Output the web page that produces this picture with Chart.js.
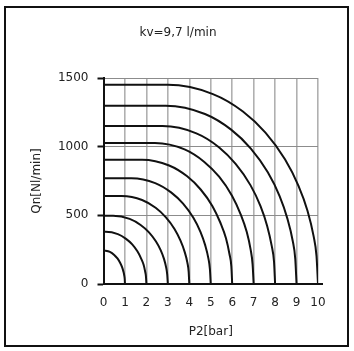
<!DOCTYPE html>
<html><head><meta charset="utf-8">
<script src="https://cdn.jsdelivr.net/npm/chart.js@4"></script>
<style>html,body{margin:0;padding:0;background:#fff}canvas{display:block}</style>
</head><body>
<canvas id="c" width="354" height="351"></canvas>
<script>
const titleText = 'kv=9,7 l/min';
const xAxisTitle = 'P2[bar]';
const yAxisTitle = 'Qn[Nl/min]';
const xTicks = [0, 1, 2, 3, 4, 5, 6, 7, 8, 9, 10];
const yTicks = [0, 500, 1000, 1500];

// one curve per inlet pressure P1 = 1 ... 10 bar (P2 in bar, Qn in Nl/min)
const p2_c1  = [0, 0.3, 0.5, 0.65, 0.78, 0.87, 0.93, 0.97, 0.99, 1];
const qn_c1  = [245, 234, 212, 186, 153, 121, 90, 60, 35, 0];
const p2_c2  = [0, 0.1, 0.67, 1.05, 1.34, 1.58, 1.75, 1.87, 1.94, 1.98, 2];
const qn_c2  = [380, 380, 363, 329, 289, 238, 187, 140, 92, 54, 0];
const p2_c3  = [0, 0.45, 1.22, 1.73, 2.11, 2.44, 2.67, 2.82, 2.92, 2.97, 3];
const qn_c3  = [497, 497, 474, 430, 378, 311, 245, 183, 121, 70, 0];
const p2_c4  = [0, 0.85, 1.8, 2.43, 2.9, 3.31, 3.59, 3.78, 3.91, 3.97, 4];
const qn_c4  = [641, 641, 612, 555, 487, 401, 316, 236, 156, 90, 0];
const p2_c5  = [0, 1.3, 2.41, 3.15, 3.71, 4.19, 4.52, 4.74, 4.89, 4.96, 5];
const qn_c5  = [770, 770, 735, 667, 585, 482, 380, 283, 187, 109, 0];
const p2_c6  = [0, 1.8, 3.06, 3.9, 4.53, 5.08, 5.45, 5.71, 5.87, 5.96, 6];
const qn_c6  = [905, 905, 863, 784, 688, 567, 446, 333, 220, 128, 0];
const p2_c7  = [0, 2.4, 3.78, 4.7, 5.39, 5.99, 6.4, 6.68, 6.86, 6.95, 7];
const qn_c7  = [1027, 1027, 980, 889, 781, 643, 506, 378, 250, 145, 0];
const p2_c8  = [0, 2.75, 4.33, 5.38, 6.16, 6.85, 7.32, 7.63, 7.84, 7.95, 8];
const qn_c8  = [1150, 1150, 1097, 996, 874, 720, 567, 423, 279, 162, 0];
const p2_c9  = [0, 2.9, 4.73, 5.95, 6.87, 7.66, 8.21, 8.57, 8.82, 8.94, 9];
const qn_c9  = [1298, 1298, 1238, 1124, 986, 813, 640, 478, 315, 183, 0];
const p2_c10 = [0, 3.0, 5.1, 6.5, 7.55, 8.46, 9.09, 9.51, 9.79, 9.93, 10];
const qn_c10 = [1450, 1450, 1383, 1256, 1102, 908, 715, 534, 352, 204, 0];

const curvesP2 = [p2_c1, p2_c2, p2_c3, p2_c4, p2_c5, p2_c6, p2_c7, p2_c8, p2_c9, p2_c10];
const curvesQn = [qn_c1, qn_c2, qn_c3, qn_c4, qn_c5, qn_c6, qn_c7, qn_c8, qn_c9, qn_c10];

const FONT = 'DejaVu Sans';
const TXT = '#222';

const datasets = curvesP2.map((xs, i) => ({
  label: 'P1=' + (i + 1),
  data: xs.map((x, j) => ({ x: x, y: curvesQn[i][j] })),
  borderColor: '#111',
  borderWidth: 2,
  pointRadius: 0,
  fill: false,
  cubicInterpolationMode: 'monotone'
}));

const decor = {
  id: 'decor',
  afterDraw(chart) {
    const { ctx, chartArea: a, scales } = chart;
    const y0 = scales.y.getPixelForValue(0);
    ctx.save();
    ctx.strokeStyle = '#111';
    ctx.lineWidth = 2;
    ctx.beginPath();
    ctx.moveTo(a.right - 1, y0);
    ctx.lineTo(a.right + 5, y0);
    ctx.stroke();
    ctx.strokeRect(5, 7, 343, 339);
    ctx.fillStyle = TXT;
    ctx.font = '12px "' + FONT + '"';
    ctx.textAlign = 'center';
    ctx.textBaseline = 'middle';
    ctx.fillText(titleText, 178, 33);
    ctx.restore();
  }
};

new Chart(document.getElementById('c'), {
  type: 'line',
  data: { datasets },
  plugins: [decor],
  options: {
    responsive: false,
    animation: false,
    layout: { padding: { left: 0, right: 36, top: 78, bottom: 0 } },
    plugins: {
      legend: { display: false },
      tooltip: { enabled: false },
      title: { display: false }
    },
    scales: {
      x: {
        type: 'linear',
        min: 0, max: 10,
        afterFit: s => { s.height = 67; },
        afterBuildTicks: s => { s.ticks = xTicks.map(v => ({ value: v })); },
        ticks: { color: TXT, font: { family: FONT, size: 12 }, padding: 12, maxRotation: 0, autoSkip: false,
                 callback: v => String(v) },
        grid: { color: '#b0b0b0', lineWidth: 1.6, drawTicks: false },
        border: { display: true, color: '#111', width: 2 },
        title: { display: true, text: xAxisTitle, color: TXT, font: { family: FONT, size: 12 }, padding: { top: 0, bottom: 12 } }
      },
      y: {
        type: 'linear',
        min: 0, max: 1500,
        afterFit: s => { s.width = 103.5; },
        afterBuildTicks: s => { s.ticks = yTicks.map(v => ({ value: v })); },
        ticks: { color: TXT, font: { family: FONT, size: 12 }, padding: 9, callback: v => String(v) },
        grid: { color: '#8c8c8c', lineWidth: 1, drawTicks: true, tickLength: 6, tickColor: '#111', tickWidth: 2 },
        border: { display: true, color: '#111', width: 2 },
        title: { display: true, text: yAxisTitle, color: TXT, font: { family: FONT, size: 12 }, padding: { top: 30, bottom: 0 } }
      }
    }
  }
});
</script>
</body></html>
